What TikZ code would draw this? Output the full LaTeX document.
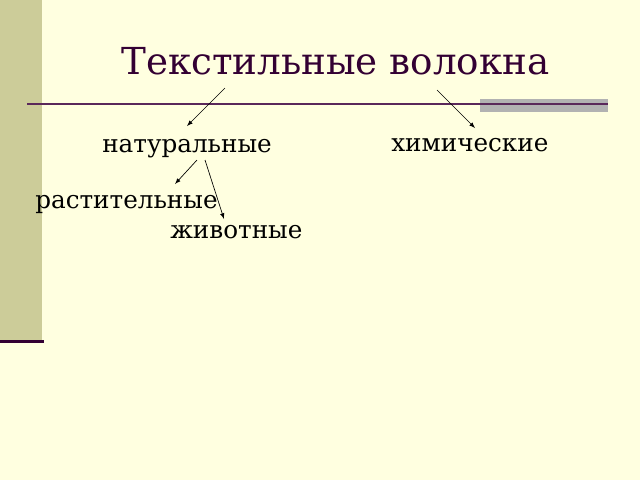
\documentclass[tikz,border=0pt]{standalone}
\usepackage{fontspec}
\setmainfont{DejaVu Serif}
\usetikzlibrary{arrows}
\definecolor{slidebg}{RGB}{255,255,224}
\definecolor{sidebar}{RGB}{204,204,153}
\definecolor{darkplum}{RGB}{51,0,51}
\definecolor{ruleplum}{RGB}{90,40,90}
\definecolor{bargray}{RGB}{178,178,178}
\tikzset{>=latex}
\tikzset{
	fibre/.style={anchor=base west, inner sep=0pt, font=\fontsize{18.5}{20}\selectfont},
	pointer/.style={->, line width=0.5pt}
}

\begin{document}
\begin{tikzpicture}[x=0.75pt, y=-0.75pt]
	% Background and slide decoration
	\fill[slidebg] (0,0) rectangle (640,480);
	\useasboundingbox (0,0) rectangle (640,480);
	\fill[sidebar] (0,0) rectangle (42,340);
	\fill[darkplum] (0,339.5) rectangle (44,342.5);
	\fill[bargray] (480,98.5) rectangle (608,111.5);
	\draw[ruleplum, line width=1.5pt] (27,104) -- (608,104);
	
	% Text nodes
	\node[anchor=base west, inner sep=0pt, text=darkplum, font=\fontsize{27.9}{30}\selectfont] (title) at (121,74.5) {Текстильные волокна};
	\node[fibre] (nat) at (102,152.5) {натуральные};
	\node[fibre] (chem) at (391,151) {химические};
	\node[fibre] (plant) at (35,208.5) {растительные};
	\node[fibre] (animal) at (170,238.5) {животные};
	
	% Arrow end points
	\coordinate (t1) at (225,88); % to natural
	\coordinate (n1) at (187,126);
	\coordinate (t2) at (437,90); % to chemical
	\coordinate (c1) at (475,128);
	\coordinate (n2) at (197,160); % to plant
	\coordinate (p1) at (175,184);
	\coordinate (n3) at (205,160); % to animal
	\coordinate (a1) at (224,219);
	
	% Drawing arrows
	\draw[pointer] (t1) -- (n1);
	\draw[pointer] (t2) -- (c1);
	\draw[pointer] (n2) -- (p1);
	\draw[pointer] (n3) -- (a1);
\end{tikzpicture}
\end{document}
